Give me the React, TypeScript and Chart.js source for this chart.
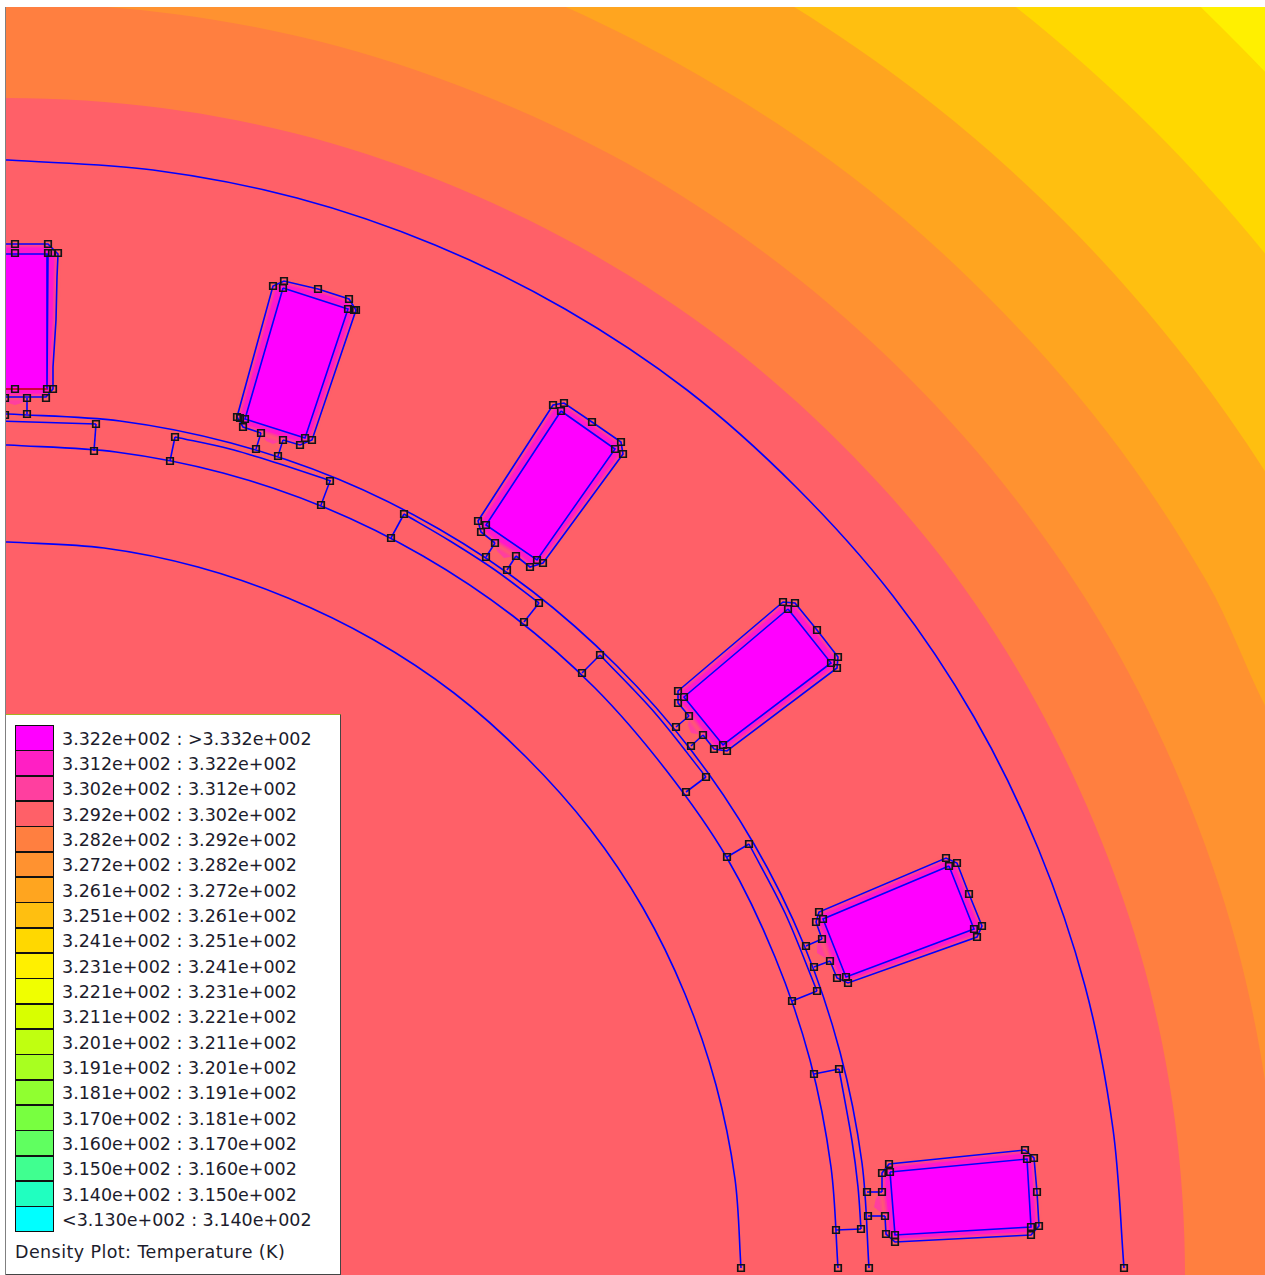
import React, { useEffect, useRef } from "react";
import { Chart, registerables } from "chart.js";

Chart.register(...registerables);

type P = [number, number];

const legendRanges = [
  "3.322e+002 : >3.332e+002", "3.312e+002 : 3.322e+002", "3.302e+002 : 3.312e+002", "3.292e+002 : 3.302e+002",
  "3.282e+002 : 3.292e+002", "3.272e+002 : 3.282e+002", "3.261e+002 : 3.272e+002", "3.251e+002 : 3.261e+002",
  "3.241e+002 : 3.251e+002", "3.231e+002 : 3.241e+002", "3.221e+002 : 3.231e+002", "3.211e+002 : 3.221e+002",
  "3.201e+002 : 3.211e+002", "3.191e+002 : 3.201e+002", "3.181e+002 : 3.191e+002", "3.170e+002 : 3.181e+002",
  "3.160e+002 : 3.170e+002", "3.150e+002 : 3.160e+002", "3.140e+002 : 3.150e+002", "<3.130e+002 : 3.140e+002",
];
const legendColors = [
  "#FF00FF", "#FF1FC4", "#FF3F9F", "#FF6068", "#FF7F40", "#FF9230", "#FFA51F", "#FFBF10", "#FFD800", "#FFF000",
  "#F0FF00", "#D8FF00", "#C0FF10", "#A8FF20", "#90FF30", "#78FF40", "#60FF60", "#40FF90", "#20FFC0", "#00FFFF",
];
const plotTitle = "Density Plot: Temperature (K)";

// Temperature band edges
const bandGold: P[] = [[876, -239], [1066, -112], [1238, 44], [1390, 216], [1518, 405]];
const bandAmber: P[] = [[628, -222], [818, -128], [994, -10], [1153, 129], [1293, 289], [1411, 465], [1505, 655]];
const bandTangerine: P[] = [[394, -166], [579, -103], [754, -17], [916, 91], [1063, 220], [1192, 367], [1300, 529], [1386, 704]];
const bandOrange: P[] = [[366, -63], [538, -5], [700, 76], [851, 176], [987, 296], [1107, 432], [1207, 582], [1288, 745]];
const bandCoral: P[] = [[-158, 14], [8, 3], [174, 14], [337, 46], [495, 100], [644, 173], [782, 266], [907, 376], [1017, 501], [1110, 639], [1183, 788], [1237, 946], [1269, 1109], [1280, 1275], [1269, 1441]];
const bandPink: P[] = [[-146, 108], [8, 98], [162, 108], [313, 138], [458, 188], [596, 256], [724, 341], [840, 443], [942, 558], [1027, 686], [1095, 825], [1145, 970], [1175, 1121], [1185, 1275], [1175, 1429]];
const bandClosure: P[] = [[2600, 2600], [-300, 2600], [-300, -400]];

// Circular boundaries
const arcOuter: P[] = [[0, 160], [8, 160], [153, 170], [297, 198], [435, 245], [565, 309], [687, 390], [796, 487], [893, 596], [974, 717], [1038, 848], [1085, 986], [1113, 1129], [1124, 1268]];
const arcGapOuter: P[] = [[0, 414], [8, 414], [120, 421], [231, 443], [338, 479], [439, 529], [532, 591], [617, 666], [691, 750], [754, 844], [804, 945], [840, 1052], [862, 1163], [869, 1268]];
const arcGapInner: P[] = [[0, 445], [8, 445], [116, 452], [223, 473], [326, 508], [423, 556], [513, 616], [595, 688], [666, 770], [727, 858], [775, 957], [810, 1060], [831, 1167], [838, 1268]];
const arcInner: P[] = [[0, 542], [8, 542], [104, 548], [198, 567], [288, 598], [374, 640], [454, 693], [526, 757], [590, 829], [643, 908], [685, 994], [716, 1085], [735, 1179], [741, 1268]];

const pockets: P[][] = [
  [[0, 421], [96, 424]],
  [[175, 437], [230, 449], [280, 464], [331, 481]],
  [[404, 514], [450, 541], [495, 570], [539, 603]],
  [[600, 655], [655, 713], [706, 777]],
  [[749, 844], [785, 913], [817, 991]],
  [[839, 1069], [852, 1141], [858, 1187], [861, 1229]],
];
const rungs: P[][] = [
  [[27, 398], [27, 414]], [[96, 424], [94, 451]], [[175, 437], [170, 461]], [[330, 481], [321, 505]],
  [[404, 514], [391, 538]], [[539, 603], [524, 622]], [[600, 655], [582, 673]], [[706, 777], [686, 792]],
  [[749, 844], [727, 857]], [[817, 991], [792, 1001]], [[839, 1069], [814, 1074]], [[861, 1229], [836, 1230]],
  [[261, 433], [256, 449]], [[283, 440], [278, 456]],
  [[495, 543], [486, 557]], [[516, 556], [507, 570]],
  [[689, 716], [676, 727]], [[703, 735], [691, 746]],
  [[822, 939], [806, 946]], [[830, 961], [814, 967]],
  [[882, 1192], [867, 1192]], [[885, 1216], [868, 1216]],
];

// Slots: outer outlines (open across the gap), inner outlines, warm bulges
const slotOuter: P[][] = [
  [[0, 244], [48, 244], [58, 254], [57, 277], [56, 320], [53, 367], [53, 389], [46, 397], [0, 397]],
  [[283, 440], [300, 445], [312, 440], [356, 310], [349, 299], [318, 289], [284, 281], [273, 286], [237, 417], [243, 427], [261, 433]],
  [[516, 556], [530, 567], [543, 563], [623, 454], [621, 442], [592, 422], [564, 403], [553, 405], [478, 521], [481, 532], [495, 543]],
  [[703, 735], [714, 749], [727, 751], [837, 668], [838, 657], [817, 630], [795, 603], [783, 602], [678, 691], [678, 703], [689, 716]],
  [[830, 961], [837, 978], [848, 983], [977, 937], [982, 926], [969, 894], [957, 863], [946, 858], [819, 912], [816, 922], [822, 939]],
  [[885, 1216], [886, 1234], [895, 1242], [1031, 1235], [1039, 1226], [1037, 1192], [1034, 1158], [1025, 1150], [889, 1164], [882, 1173], [882, 1192]],
];
const slotInner: P[][] = [
  [[0, 254], [48, 254], [47, 389], [0, 389]],
  [[283, 288], [348, 309], [305, 438], [245, 419], [283, 288]],
  [[561, 411], [615, 449], [537, 560], [486, 525], [561, 411]],
  [[788, 609], [831, 663], [723, 745], [684, 697], [788, 609]],
  [[949, 866], [974, 929], [846, 977], [823, 919], [949, 866]],
  [[890, 1172], [1027, 1159], [1031, 1227], [895, 1235], [890, 1172]],
];
const slotBulge: P[][] = [
  [[0, 397], [26, 397], [22, 403], [15, 405], [8, 403], [0, 400]],
  [[261, 433], [266, 441], [273, 444], [283, 440]],
  [[495, 543], [497, 551], [504, 558], [516, 556]],
  [[689, 716], [688, 725], [691, 733], [703, 735]],
  [[822, 939], [817, 945], [817, 953], [830, 961]],
  [[882, 1192], [876, 1198], [874, 1207], [885, 1216]],
];
const redEdge: P[] = [[0, 389], [47, 389]];

const nodeMarks: P[] = [
  [5, 398], [5, 415], [15, 244], [48, 244], [15, 253], [48, 253], [52, 253], [58, 253], [15, 389], [47, 389], [53, 389], [27, 398], [46, 398], [27, 414],
  [273, 286], [284, 281], [283, 288], [318, 289], [349, 299], [348, 309], [356, 310], [354, 310], [237, 417], [240, 418], [245, 419], [243, 427], [261, 433], [256, 449], [283, 440], [278, 456], [305, 438], [312, 440], [300, 445],
  [553, 405], [564, 403], [561, 411], [592, 422], [621, 442], [615, 449], [623, 454], [478, 521], [486, 525], [481, 532], [495, 543], [486, 557], [516, 556], [507, 570], [530, 567], [537, 560], [543, 563],
  [783, 602], [795, 603], [788, 609], [817, 630], [838, 657], [831, 663], [837, 668], [678, 691], [684, 697], [678, 703], [689, 716], [676, 727], [703, 735], [691, 746], [714, 749], [723, 745], [727, 751],
  [946, 858], [957, 863], [949, 866], [969, 894], [982, 926], [974, 929], [977, 937], [819, 912], [823, 919], [816, 922], [822, 939], [806, 946], [830, 961], [814, 967], [837, 978], [846, 977], [848, 983],
  [1025, 1150], [1034, 1158], [1027, 1159], [1037, 1192], [1039, 1226], [1031, 1227], [1031, 1235], [889, 1164], [890, 1172], [882, 1173], [882, 1192], [867, 1192], [885, 1216], [868, 1216], [886, 1234], [895, 1235], [895, 1242],
  [96, 424], [94, 451], [175, 437], [170, 461], [330, 481], [321, 505], [404, 514], [391, 538], [539, 603], [524, 622], [600, 655], [582, 673], [706, 777], [686, 792], [749, 844], [727, 857], [817, 991], [792, 1001], [839, 1069], [814, 1074], [861, 1229], [836, 1230], [838, 1268], [869, 1268], [741, 1268], [1124, 1268],
];

const pts = (a: P[]) => a.map(([x, y]) => ({ x, y }));
const BLUE = "#0000FF";

function fillSet(points: P[], color: string, tension = 0) {
  return { data: pts(points), showLine: true, fill: "shape", backgroundColor: color, borderColor: "transparent", borderWidth: 0, pointRadius: 0, tension };
}
function lineSet(points: P[], color = BLUE, tension = 0, width = 1.6) {
  return { data: pts(points), showLine: true, fill: false, borderColor: color, borderWidth: width, pointRadius: 0, tension };
}

export default function App() {
  const ref = useRef<HTMLCanvasElement>(null);
  useEffect(() => {
    const bands: [P[], string][] = [
      [bandGold, "#FFD800"], [bandAmber, "#FFBF10"], [bandTangerine, "#FFA51F"],
      [bandOrange, "#FF9230"], [bandCoral, "#FF7F40"], [bandPink, "#FF6068"],
    ];
    const layers: any[] = [
      ...bands.map(([edge, color]) => fillSet([...edge, ...bandClosure], color, 0.33)),
      ...slotBulge.map((b) => fillSet(b, "#FF3F9F")),
      ...slotOuter.map((s) => fillSet(s, "#FF18CC")),
      ...slotOuter.map((s) => lineSet([...s, s[0]], "rgba(255,96,104,0.4)", 0, 7)),
      ...slotOuter.map((s) => lineSet([...s, s[0]], "rgba(255,96,104,0.55)", 0, 3.5)),
      ...slotInner.map((s) => fillSet(s, "#FF00FF")),
      lineSet(arcOuter, BLUE, 0.33), lineSet(arcGapOuter, BLUE, 0.33), lineSet(arcGapInner, BLUE, 0.33), lineSet(arcInner, BLUE, 0.33),
      ...pockets.map((p) => lineSet(p, BLUE, 0.33)),
      ...rungs.map((r) => lineSet(r)),
      ...slotOuter.map((s) => lineSet(s)),
      ...slotInner.map((s) => lineSet(s)),
      lineSet(redEdge, "#FF0000"),
      {
        data: pts(nodeMarks), showLine: false, pointStyle: "rect", pointRadius: 4.6, pointBorderWidth: 1.7,
        pointBorderColor: "#141414", pointBackgroundColor: "rgba(0,0,0,0)",
      },
    ];
    layers.forEach((l, i) => (l.order = layers.length - i));
    const chart = new Chart(ref.current!, {
      type: "scatter",
      data: { datasets: layers },
      options: {
        animation: false, responsive: false, devicePixelRatio: 1,
        layout: { padding: 0, autoPadding: false },
        plugins: { legend: { display: false }, tooltip: { enabled: false } },
        scales: {
          x: { type: "linear", min: 6, max: 1265, display: false },
          y: { type: "linear", min: 7, max: 1275, reverse: true, display: false },
        },
      } as any,
    });
    return () => chart.destroy();
  }, []);

  return (
    <div style={{ position: "fixed", left: 0, top: 0, width: 1265, height: 1275, background: "#fff", overflow: "hidden" }}>
      <div style={{ position: "absolute", left: 5, top: 7, width: 1.5, height: 1268, background: "#808080" }} />
      <canvas ref={ref} width={1259} height={1268} style={{ position: "absolute", left: 6, top: 7, width: 1259, height: 1268, background: "#FFF000" }} />
      <div style={{ position: "absolute", left: 6, top: 714, width: 335, height: 561, boxSizing: "border-box", background: "#fff", borderTop: "1.5px solid #A8B020", borderRight: "1.5px solid #444", borderBottom: "1.5px solid #444" }} />
      {legendColors.map((c, i) => (
        <div key={c} style={{ position: "absolute", left: 15, top: 725 + i * 25.34, width: 38.5, height: 25.6, boxSizing: "border-box", background: c, border: "1.6px solid #111" }} />
      ))}
      {legendRanges.map((t, i) => (
        <div key={t} style={{ position: "absolute", left: 62, top: 726.5 + i * 25.34, height: 25, lineHeight: "25px", fontFamily: "'DejaVu Sans'", fontSize: 17.5, color: "#1c1c2c", whiteSpace: "pre" }}>{t}</div>
      ))}
      <div style={{ position: "absolute", left: 15, top: 1240, height: 25, lineHeight: "25px", fontFamily: "'DejaVu Sans'", fontSize: 17.5, letterSpacing: 0.42, color: "#1c1c2c", whiteSpace: "pre" }}>{plotTitle}</div>
    </div>
  );
}
